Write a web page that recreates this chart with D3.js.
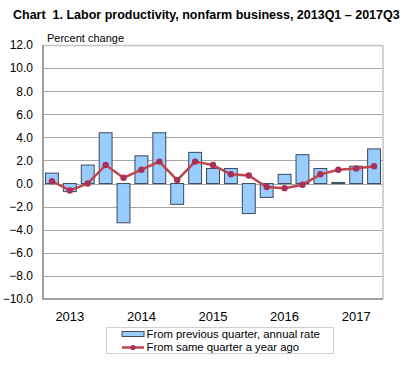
<!DOCTYPE html>
<html>
<head>
<meta charset="utf-8">
<script src="https://cdn.jsdelivr.net/npm/d3@7/dist/d3.min.js"></script>
<style>
  body { margin: 0; background: #fff; }
  svg { display: block; font-family: Arial, "Liberation Sans", sans-serif; }
</style>
</head>
<body>
<svg id="chart" width="404" height="366"></svg>
<script>
(function() {
  'use strict';

  // quarters 2013Q1 .. 2017Q3
  let quarters = ['2013Q1', '2013Q2', '2013Q3', '2013Q4',
    '2014Q1', '2014Q2', '2014Q3', '2014Q4',
    '2015Q1', '2015Q2', '2015Q3', '2015Q4',
    '2016Q1', '2016Q2', '2016Q3', '2016Q4',
    '2017Q1', '2017Q2', '2017Q3'];
  let prevQuarter = [0.9, -0.7, 1.6, 4.4, -3.4, 2.4, 4.4, -1.8,
    2.7, 1.3, 1.3, -2.6, -1.2, 0.8, 2.5, 1.3, 0.1, 1.5, 3.0];
  let yearAgo = [0.2, -0.6, 0.0, 1.6, 0.5, 1.2, 1.9, 0.3,
    1.9, 1.6, 0.8, 0.7, -0.3, -0.4, -0.1, 0.8, 1.2, 1.3, 1.5];
  let yearLabels = ['2013', '2014', '2015', '2016', '2017'];
  let yTicks = [12, 10, 8, 6, 4, 2, 0, -2, -4, -6, -8, -10];

  let margin = {top: 45, left: 43, right: 21, bottom: 67};
  let width = 404 - margin.left - margin.right;
  let height = 366 - margin.top - margin.bottom;

  let svg = d3.select('#chart');

  // Title
  svg.append('text')
  .attr('x', 13)
  .attr('y', 19)
  .style('font-weight', 'bold')
  .style('font-size', '12.5px')
  .style('white-space', 'pre')
  .text('Chart  1. Labor productivity, nonfarm business, 2013Q1 \u2013 2017Q3');

  svg.append('text')
  .attr('x', 47)
  .attr('y', 41.5)
  .style('font-size', '11px')
  .text('Percent change');

  let x = d3.scaleBand()
  .domain(quarters)
  .range([0, width])
  .paddingInner(0.28)
  .paddingOuter(0.14);

  let y = d3.scaleLinear()
  .domain([-10, 12])
  .range([height, 0]);

  let g = svg.append('g')
  .attr('transform', 'translate(' + margin.left + ',' + margin.top + ')');

  // Gridlines
  g.append('g')
  .selectAll('line')
  .data(yTicks.filter(d => d !== 12 && d !== -10))
  .enter()
  .append('line')
  .attr('x1', 0)
  .attr('x2', width)
  .attr('y1', d => Math.round(y(d)) + 0.5)
  .attr('y2', d => Math.round(y(d)) + 0.5)
  .style('stroke', '#a6a6a6')
  .style('stroke-width', 1.2);

  // Y axis labels
  let yAxis = d3.axisLeft(y)
  .tickValues(yTicks)
  .tickSize(0)
  .tickPadding(10)
  .tickFormat(d3.format('.1f'));

  g.append('g')
  .call(yAxis)
  .call(s => s.select('.domain').remove())
  .selectAll('text')
  .style('font-size', '12px')
  .style('font-family', 'Arial, "Liberation Sans", sans-serif')
  .style('fill', '#000');

  // Bars
  g.append('g')
  .selectAll('rect')
  .data(prevQuarter)
  .enter()
  .append('rect')
  .attr('x', (d, i) => x(quarters[i]))
  .attr('width', x.bandwidth())
  .attr('y', d => y(Math.max(0, d)))
  .attr('height', d => Math.abs(y(d) - y(0)))
  .style('fill', '#99ccff')
  .style('stroke', '#3a4a5a')
  .style('stroke-width', 1);

  // Line
  let cx = i => x(quarters[i]) + x.bandwidth() / 2;
  let line = d3.line()
  .x((d, i) => cx(i))
  .y(d => y(d));

  g.append('path')
  .datum(yearAgo)
  .attr('d', line)
  .style('fill', 'none')
  .style('stroke', '#c0454c')
  .style('stroke-width', 2.5);

  g.append('g')
  .selectAll('circle')
  .data(yearAgo)
  .enter()
  .append('circle')
  .attr('cx', (d, i) => cx(i))
  .attr('cy', d => y(d))
  .attr('r', 3.2)
  .style('fill', '#a8305a');

  // Plot frame
  g.append('line')
  .attr('x1', width).attr('x2', width)
  .attr('y1', 0).attr('y2', height)
  .style('stroke', '#c4c4c4')
  .style('stroke-width', 1.5);
  g.append('line')
  .attr('x1', 0).attr('x2', width)
  .attr('y1', 0.5).attr('y2', 0.5)
  .style('stroke', '#c4c4c4')
  .style('stroke-width', 1.5);
  g.append('line')
  .attr('x1', 0).attr('x2', 0)
  .attr('y1', 0).attr('y2', height + 1)
  .style('stroke', '#a0a0a0')
  .style('stroke-width', 2);
  g.append('line')
  .attr('x1', 0).attr('x2', width)
  .attr('y1', height).attr('y2', height)
  .style('stroke', '#a0a0a0')
  .style('stroke-width', 2);

  // Year labels (placed at the second quarter of each year)
  g.append('g')
  .selectAll('text')
  .data(yearLabels)
  .enter()
  .append('text')
  .attr('x', d => x(d + 'Q2') + x.bandwidth() / 2)
  .attr('y', height + 22)
  .style('text-anchor', 'middle')
  .style('font-size', '13px')
  .text(d => d);

  // Legend
  let legend = svg.append('g')
  .attr('transform', 'translate(106,327)');

  legend.append('rect')
  .attr('x', 0.5).attr('y', 0.5)
  .attr('width', 227).attr('height', 26)
  .style('fill', '#fff')
  .style('stroke', '#d0d0d0');

  legend.append('rect')
  .attr('x', 16).attr('y', 4.5)
  .attr('width', 22).attr('height', 5)
  .style('fill', '#99ccff')
  .style('stroke', '#3a4a5a');

  legend.append('text')
  .attr('x', 40.5).attr('y', 11)
  .style('font-size', '11.3px')
  .text('From previous quarter, annual rate');

  legend.append('line')
  .attr('x1', 16).attr('x2', 38)
  .attr('y1', 20.5).attr('y2', 20.5)
  .style('stroke', '#c0454c')
  .style('stroke-width', 2.5);

  legend.append('circle')
  .attr('cx', 27).attr('cy', 20.5).attr('r', 2.6)
  .style('fill', '#a8305a');

  legend.append('text')
  .attr('x', 40.5).attr('y', 24)
  .style('font-size', '11.3px')
  .text('From same quarter a year ago');
})();
</script>
</body>
</html>
